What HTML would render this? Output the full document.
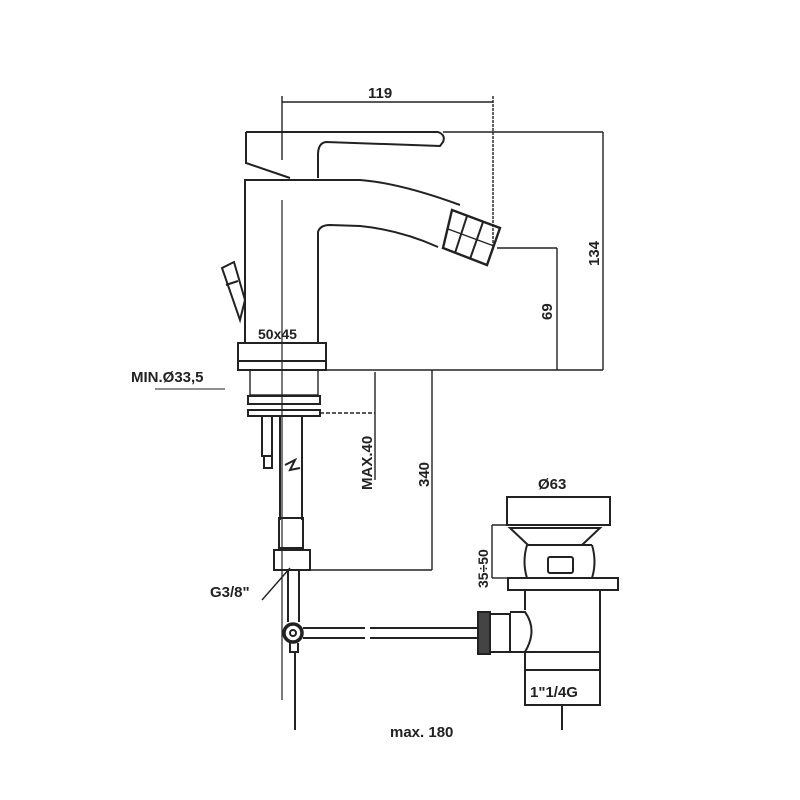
<!DOCTYPE html>
<html><head><style>body{margin:0;background:#fff}svg{display:block}text{font-family:"Liberation Sans",Arial,sans-serif;fill:#222;font-weight:bold}</style></head>
<body>
<svg width="800" height="800" viewBox="0 0 800 800" xmlns="http://www.w3.org/2000/svg" fill="none" stroke="#222" stroke-width="2">
<!-- 119 dimension -->
<line x1="282" y1="102" x2="493" y2="102" stroke-width="1.4"/>
<line x1="493" y1="96" x2="493" y2="250" stroke-width="1.4" stroke-dasharray="3 1"/>
<line x1="282" y1="96" x2="282" y2="160" stroke-width="1.4"/>
<line x1="282" y1="200" x2="282" y2="700" stroke-width="1.2"/>
<text x="368" y="98" font-size="15" stroke="none">119</text>
<!-- handle -->
<path d="M246 132 L438 132 Q446 135 443 142 L440 146 L326 142 Q318 143 318 155 L318 178"/>
<path d="M246 132 L246 163 L290 178"/>
<!-- body -->
<path d="M245 343 L245 180 L360 180 Q400 183 460 205"/>
<path d="M318 343 L318 232 Q320 225 330 225 L360 226 Q400 230 438 247"/>
<!-- nozzle -->
<path d="M452 210 L500 228 L487 265 L443 248 Z" stroke-width="2.4"/>
<line x1="467" y1="216" x2="455" y2="253"/><line x1="483" y1="222" x2="470" y2="259"/>
<line x1="448" y1="229" x2="494" y2="246" stroke-width="1.4"/>
<!-- lever -->
<path d="M222 268 L234 262 L245 300 L240 320 Z"/>
<line x1="226" y1="285" x2="238" y2="281"/>
<!-- 134 dim -->
<line x1="443" y1="132" x2="603" y2="132" stroke-width="1.4"/>
<line x1="603" y1="132" x2="603" y2="370" stroke-width="1.4"/>
<text transform="translate(599,266) rotate(-90)" font-size="15" stroke="none">134</text>
<!-- 69 -->
<line x1="497" y1="248" x2="557" y2="248" stroke-width="1.4"/>
<line x1="557" y1="248" x2="557" y2="370" stroke-width="1.4"/>
<text transform="translate(552,320) rotate(-90)" font-size="15" stroke="none">69</text>
<!-- base -->
<text x="258" y="339" font-size="14" stroke="none">50x45</text>
<rect x="238" y="343" width="88" height="18"/>
<rect x="238" y="361" width="88" height="9"/>
<line x1="326" y1="370" x2="603" y2="370" stroke-width="1.4"/>
<text x="131" y="382" font-size="15" stroke="none">MIN.Ø33,5</text>
<line x1="155" y1="389" x2="225" y2="389" stroke-width="1"/>
<!-- under base -->
<rect x="250" y="370" width="68" height="25" stroke-width="1.4"/>
<rect x="248" y="396" width="72" height="8"/>
<rect x="248" y="410" width="72" height="6"/>
<rect x="262" y="416" width="10" height="40"/>
<rect x="264" y="456" width="8" height="12"/>
<path d="M280 416 L280 520 M302 416 L302 520"/>
<path d="M285 465 L295 460 L290 470 L300 468"/>
<!-- MAX.40 -->
<line x1="320" y1="413" x2="375" y2="413" stroke-width="1.4" stroke-dasharray="4 2"/>
<line x1="375" y1="372" x2="375" y2="480" stroke-width="1.4"/>
<text transform="translate(372,490) rotate(-90)" font-size="15" stroke="none">MAX.40</text>
<!-- 340 -->
<line x1="432" y1="370" x2="432" y2="570" stroke-width="1.4"/>
<line x1="310" y1="570" x2="432" y2="570" stroke-width="1.4"/>
<text transform="translate(429,487) rotate(-90)" font-size="15" stroke="none">340</text>
<!-- connector -->
<rect x="279" y="518" width="24" height="30"/>
<rect x="274" y="550" width="36" height="20"/>
<line x1="290" y1="568" x2="262" y2="600" stroke-width="1.4"/>
<text x="210" y="597" font-size="15" stroke="none">G3/8"</text>
<path d="M288 570 L288 622 M299 570 L299 622"/>
<circle cx="293" cy="633" r="9" stroke-width="3.5"/>
<circle cx="293" cy="633" r="3"/>
<path d="M290 643 L290 652 L298 652 L298 643"/>
<line x1="295" y1="652" x2="295" y2="730"/>
<path d="M303 628 L365 628 M303 638 L365 638 M370 628 L478 628 M370 638 L478 638"/>
<!-- drain -->
<text x="538" y="489" font-size="15" stroke="none">Ø63</text>
<rect x="507" y="497" width="103" height="28"/>
<path d="M510 528 L600 528 L582 545 L528 545 Z"/>
<path d="M527 545 Q522 562 527 578 M592 545 Q597 562 592 578 M527 545 L592 545"/>
<rect x="548" y="557" width="25" height="16" rx="2"/>
<rect x="508" y="578" width="110" height="12"/>
<line x1="492" y1="525" x2="510" y2="525" stroke-width="1.4"/>
<line x1="492" y1="578" x2="508" y2="578" stroke-width="1.4"/>
<line x1="492" y1="525" x2="492" y2="578" stroke-width="1.4"/>
<text transform="translate(488,588) rotate(-90)" font-size="14" stroke="none">35÷50</text>
<path d="M525 590 L525 610 M600 590 L600 652"/>
<path d="M510 612 L525 612 Q538 630 525 652 L510 652"/>
<rect x="478" y="612" width="12" height="42" fill="#444"/>
<rect x="490" y="614" width="20" height="38"/>
<rect x="525" y="652" width="75" height="18"/>
<rect x="525" y="670" width="75" height="35"/>
<text x="530" y="697" font-size="15" stroke="none">1"1/4G</text>
<line x1="562" y1="705" x2="562" y2="730"/>
<text x="390" y="737" font-size="15" stroke="none">max. 180</text>
</svg>
</body></html>
